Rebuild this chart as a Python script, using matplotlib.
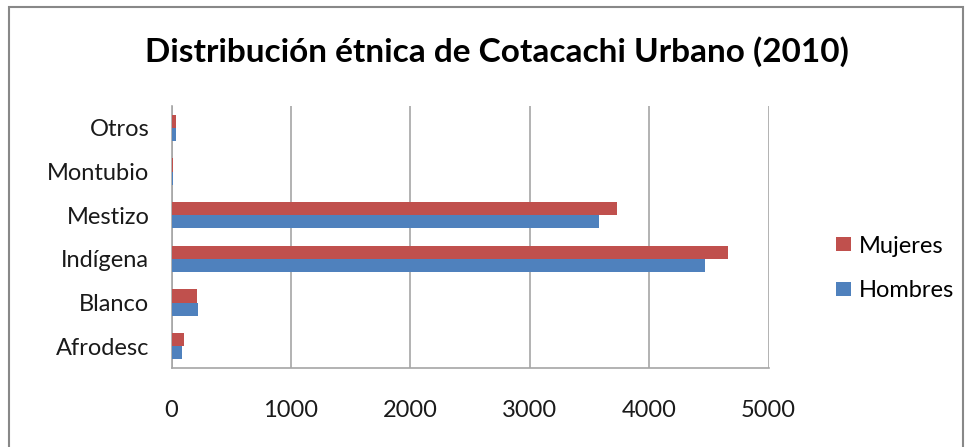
import matplotlib.pyplot as plt
import numpy as np
from matplotlib.patches import Rectangle

plt.rcParams['font.family'] = ['Lato', 'DejaVu Sans']

categorias = ["Afrodesc", "Blanco", "Indígena", "Mestizo", "Montubio", "Otros"]
mujeres = [104, 210, 4662, 3728, 15, 37]
hombres = [92, 221, 4466, 3578, 12, 35]
xticks = [0, 1000, 2000, 3000, 4000, 5000]

rojo = "#C0504D"
azul = "#4F81BD"
gris = "#A6A6A6"

fig = plt.figure(figsize=(9.72, 4.47), dpi=100)
# marco del grafico
fig.patches.append(Rectangle((9 / 972, -0.05), (963 - 9) / 972, 1 - 7 / 447 + 0.05,
                             transform=fig.transFigure, fill=False,
                             edgecolor="#888888", linewidth=1.5))

ax = fig.add_axes([171.5 / 972, 1 - 368 / 447, (768.5 - 171.5) / 972, (368 - 106) / 447])

y = np.arange(len(categorias))
h = 0.3
ax.barh(y - h / 2, hombres, height=h, color=azul, label="Hombres", zorder=3)
ax.barh(y + h / 2, mujeres, height=h, color=rojo, label="Mujeres", zorder=3)

ax.set_xlim(0, 5000)
ax.set_ylim(-0.5, len(categorias) - 0.5)
ax.set_xticks(xticks)
ax.set_yticks(y)
ax.set_yticklabels(categorias)
ax.tick_params(axis='both', length=0, labelsize=17, colors="#1a1a1a")
ax.tick_params(axis='x', pad=23)
ax.tick_params(axis='y', pad=16)
ax.grid(axis='x', color=gris, linewidth=1.2, zorder=0)
for s in ["top", "right"]:
    ax.spines[s].set_visible(False)
for s in ["left", "bottom"]:
    ax.spines[s].set_color(gris)
    ax.spines[s].set_linewidth(1.2)

fig.text(497 / 972, 1 - 62 / 447, "Distribución étnica de Cotacachi Urbano (2010)",
         ha="center", va="baseline", fontsize=24, fontweight="bold", color="black")

handles, labels = ax.get_legend_handles_labels()
ax.legend(handles[::-1], labels[::-1], loc="center left", bbox_to_anchor=(1.078, 0.38),
          frameon=False, fontsize=17, handlelength=0.64, handleheight=0.55,
          handletextpad=0.3, labelspacing=1.0)

fig.savefig("out.png", dpi=100)
